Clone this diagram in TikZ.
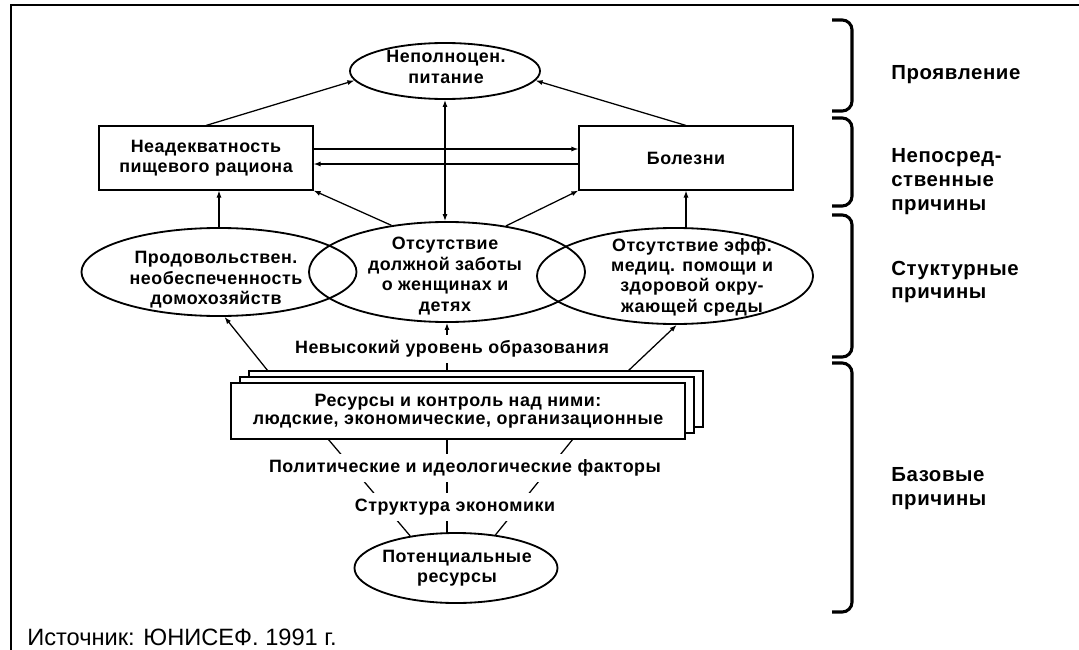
\documentclass[tikz,border=0pt]{standalone}
\usepackage{fontspec}
\setmainfont{Liberation Sans}
\newfontfamily\diagfont{Liberation Sans}[LetterSpace=3]
\usetikzlibrary{arrows.meta,calc,shapes.geometric}

\tikzset{
  txt/.style={font=\diagfont\bfseries\fontsize{12.7}{14.5}\selectfont, align=center, inner sep=0pt},
  causebox/.style={txt, draw, line width=1.3pt, minimum width=5.33cm, minimum height=1.58cm},
  stack/.style={txt, draw, fill=white, line width=1.3pt, minimum width=11.33cm, minimum height=1.4cm},
  oval/.style={draw, ellipse, line width=1.3pt, inner sep=0pt},
  link/.style={line width=0.9pt},
  onwhite/.style={txt, fill=white, inner xsep=2pt, inner ysep=4pt, text height=9pt, text depth=2.7pt},
  tier/.style={font=\diagfont\bfseries\fontsize{14.5}{17}\selectfont, align=left, anchor=west, inner sep=0pt},
  bracket/.style={line width=2.2pt, rounded corners=7pt}
}

\begin{document}
\begin{tikzpicture}[x=0.025cm, y=-0.025cm, >={Latex[length=5pt,width=3.6pt]}]
\useasboundingbox (0,0) rectangle (1079,650);
% frame
\draw[line width=1.3pt] (11,650) -- (11,5) -- (1079,5);

% manifestation
\node[oval, minimum width=4.75cm, minimum height=1.4cm] (mal) at (445,71) {};
\node[txt] (malT) at (446,67) {Неполноцен.\\питание};

% immediate causes
\node[causebox] (inad) at (206,158) {Неадекватность\\пищевого рациона};
\node[causebox] (dis) at (686,158) {Болезни};

% underlying causes
\node[oval, minimum width=6.875cm, minimum height=2.2cm] (food) at (219,272) {};
\node[oval, minimum width=6.9cm, minimum height=2.5cm] (care) at (447,272) {};
\node[oval, minimum width=6.9cm, minimum height=2.4cm] (health) at (675,276) {};
\node[txt] (foodT) at (216,280) {Продовольствен.\\необеспеченность\\домохозяйств};
\node[txt] (careT) at (445,276) {Отсутствие\\должной заботы\\о женщинах и\\детях};
\node[txt] (healthT) at (692,277) {Отсутствие эфф.\\медиц. помощи и\\здоровой окру-\\жающей среды};

% basic causes
\node[stack] (res3) at (476,399) {};
\node[stack] (res2) at (467,405) {};
\node[stack] (res) at (458,411) {Ресурсы и контроль над ними:\\[-1.5pt]людские, экономические, организационные};
\node[oval, minimum width=5.075cm, minimum height=1.75cm] (pot) at (456,568) {};
\node[txt] (potT) at (457,568) {Потенциальные\\ресурсы};

\coordinate (upL) at (268,371);
\coordinate (upM) at (447,371);
\coordinate (upR) at (628,371);
\coordinate (dnL) at (328,439);
\coordinate (dnM) at (447,439);
\coordinate (dnR) at (573,439);

% connectors
\draw[->, link] (inad.north) -- (mal.186);
\draw[->, link] (dis.north) -- (mal.-6);
\draw[<->, link] (mal.south) -- (mal.south |- care.north);
\draw[->, link] ($(inad.east)+(0,-9)$) -- ($(dis.west)+(0,-9)$);
\draw[->, link] ($(dis.west)+(0,6)$) -- ($(inad.east)+(0,6)$);
\draw[->, link] (food.north) -- (food.north |- inad.south);
\draw[->, link] (care.140) -- (inad.south east);
\draw[->, link] (care.38) -- (dis.south west);
\draw[->, link] (dis.south |- health.north) -- (dis.south);

\draw[->, link] (upL) -- (food.-83);
\draw[->, link] (upM) -- (care.south -| upM);
\draw[->, link] (upR) -- (health.-88);
\draw[link] (dnL) -- (pot.145);
\draw[link] (dnM) -- (pot.north -| dnM);
\draw[link] (dnR) -- (pot.40);

\node[onwhite] (edu) at (452,349) {Невысокий уровень образования};
\node[onwhite] (pol) at (465,468) {Политические и идеологические факторы};
\node[onwhite] (econ) at (455,507) {Структура экономики};

% levels
\foreach \ya/\yb in {20/111, 118/206, 215/357, 363/612}
  \draw[bracket] (832,\ya) -- (852,\ya) -- (852,\yb) -- (832,\yb);
\node[tier] (lvl1) at (891,75) {Проявление};
\node[tier] (lvl2) at (891,182) {Непосред-\\ственные\\причины};
\node[tier] (lvl3) at (891,282) {Стуктурные\\причины};
\node[tier] (lvl4) at (891,489) {Базовые\\причины};

\node[font=\fontsize{16.8}{19}\selectfont, anchor=base west, inner sep=0pt] (src) at (27,645) {Источник: ЮНИСЕФ. 1991 г.};
\end{tikzpicture}
\end{document}
